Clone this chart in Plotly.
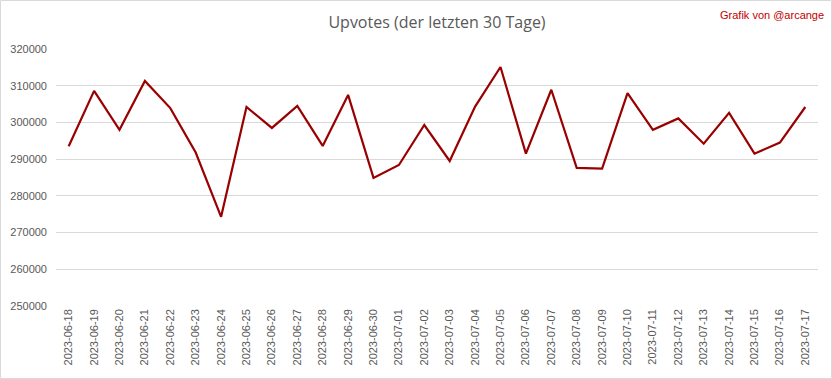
import plotly.graph_objects as go

dates = ["2023-06-18","2023-06-19","2023-06-20","2023-06-21","2023-06-22","2023-06-23","2023-06-24",
         "2023-06-25","2023-06-26","2023-06-27","2023-06-28","2023-06-29","2023-06-30","2023-07-01",
         "2023-07-02","2023-07-03","2023-07-04","2023-07-05","2023-07-06","2023-07-07","2023-07-08",
         "2023-07-09","2023-07-10","2023-07-11","2023-07-12","2023-07-13","2023-07-14","2023-07-15",
         "2023-07-16","2023-07-17"]
upvotes = [293500, 308600, 298000, 311300, 303900, 291800, 274300,
           304200, 298500, 304500, 293600, 307500, 284900, 288400,
           299300, 289500, 304300, 315100, 291500, 308900, 287600,
           287400, 308000, 298000, 301100, 294200, 302600, 291500,
           294500, 304200]
y_ticks = [250000, 260000, 270000, 280000, 290000, 300000, 310000, 320000]

W, H = 832, 379
L, R, T, B = 56, 14, 49, 73
pw, ph = W - L - R, H - T - B

fig = go.Figure()
fig.add_trace(go.Scatter(x=dates, y=upvotes, mode="lines",
                         line=dict(color="#990000", width=2.2)))

fig.update_layout(
    width=W, height=H,
    margin=dict(l=L, r=R, t=T, b=B, autoexpand=False),
    paper_bgcolor="white", plot_bgcolor="white",
    showlegend=False,
    font=dict(family="Liberation Sans Narrow, Liberation Sans, Arial", color="#595959"),
    title=dict(text="Upvotes (der letzten 30 Tage)", x=0.5, xref="paper", xanchor="center",
               y=1 - 22 / H, yref="container", yanchor="middle",
               font=dict(family="Open Sans, Liberation Sans", size=16, color="#595959")),
    xaxis=dict(type="category", range=[-0.5, len(dates) - 0.5], automargin=False,
               tickangle=-90, showgrid=False, zeroline=False,
               showline=False, ticks="", tickfont=dict(size=11, color="#595959")),
    yaxis=dict(range=[250000, 320000], tickvals=y_ticks, ticktext=[str(v) for v in y_ticks],
               automargin=False, ticklabelstandoff=8,
               showgrid=True, gridcolor="#d9d9d9", gridwidth=1, zeroline=False,
               showline=False, ticks="", tickfont=dict(size=11, color="#595959")),
    annotations=[dict(text="Grafik von @arcange", xref="paper", yref="paper",
                      x=(W - 6 - L) / pw, y=(H - 15 - B) / ph, xanchor="right", yanchor="middle",
                      showarrow=False, font=dict(size=11, color="#c00000",
                                                 family="Liberation Sans Narrow, Liberation Sans"))],
    shapes=[dict(type="rect", xref="paper", yref="paper",
                 x0=(0.5 - L) / pw, x1=(W - 0.5 - L) / pw,
                 y0=(0.5 - B) / ph, y1=(H - 0.5 - B) / ph,
                 line=dict(color="#d9d9d9", width=1), layer="below")],
)

fig.write_html("out.html", config={"displayModeBar": False},
               post_script="document.body.style.margin='0';document.body.style.overflow='hidden';")
